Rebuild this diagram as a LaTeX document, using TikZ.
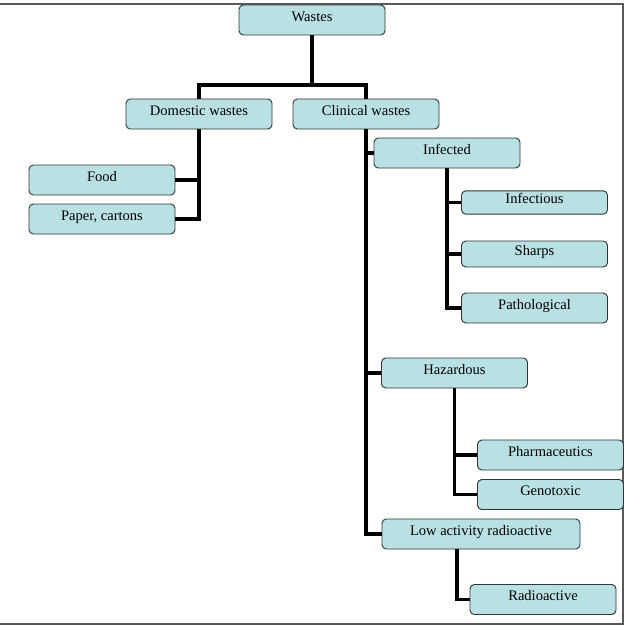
\documentclass[tikz,border=0pt]{standalone}
\usepackage{fontspec}
\setmainfont{Liberation Serif}
\usepackage{tikz}
\usetikzlibrary{positioning}
\definecolor{boxfill}{RGB}{185,224,227}
\definecolor{boxline}{RGB}{45,55,58}

\begin{document}
\begin{tikzpicture}[
  x=0.3mm, y=-0.3mm,
  box/.style={draw=boxline, line width=0.8pt, fill=boxfill, rounded corners=1.3mm,
              minimum width=43.8mm, minimum height=9mm, inner sep=0pt,
              text height=8.3pt, text depth=6.4pt, align=center,
              font=\fontsize{12.4}{14}\selectfont},
  link/.style={line width=2.6pt, black},
  frame/.style={draw=black!65, line width=1pt},
]
  \useasboundingbox (0,0) rectangle (628,625);
  % Outer frame
  \draw[frame] (0,4) -- (623,4) -- (623,624) -- (0,624);

  % Top node
  \node[box] (wastes) at (312,20) {Wastes};

  % Second level
  \node[box] (domestic) at (199,114) {Domestic wastes};
  \node[box] (clinical) at (366,114) {Clinical wastes};

  % Domestic wastes
  \node[box] (food)  at (102,180) {Food};
  \node[box] (paper) at (102,219) {Paper, cartons};

  % Clinical wastes
  \node[box] (infected) at (447,153) {Infected};
  \node[box, minimum height=7mm] (infectious) at (534.5,202.5) {Infectious};
  \node[box, minimum height=7.8mm] (sharps) at (534.5,254) {Sharps};
  \node[box] (patho) at (534.5,308) {Pathological};

  \node[box] (hazard) at (454.5,373) {Hazardous};
  \node[box] (pharma) at (550.5,455) {Pharmaceutics};
  \node[box] (geno)   at (550.5,494.5) {Genotoxic};

  \node[box, minimum width=59.4mm] (lowact) at (481,534) {Low activity radioactive};
  \node[box] (radio) at (543,599.5) {Radioactive};

  % Connectors
  \coordinate (bar) at (312,85);
  \draw[link] (wastes.south) -- (bar);
  \draw[link] (domestic.north) |- (bar) -| (clinical.north);

  \draw[link] (domestic.south) |- (food.east);
  \draw[link] (domestic.south) |- (paper.east);

  \draw[link] (clinical.south) |- (infected.west);
  \draw[link] (clinical.south) |- (hazard.west);
  \draw[link] (clinical.south) |- (lowact.west);

  \draw[link] (infected.south) |- (infectious.west);
  \draw[link] (infected.south) |- (sharps.west);
  \draw[link] (infected.south) |- (patho.west);

  \draw[link] (hazard.south) |- (pharma.west);
  \draw[link] (hazard.south) |- (geno.west);

  \draw[link] ([xshift=-7.2mm]lowact.south) |- (radio.west);
\end{tikzpicture}
\end{document}
